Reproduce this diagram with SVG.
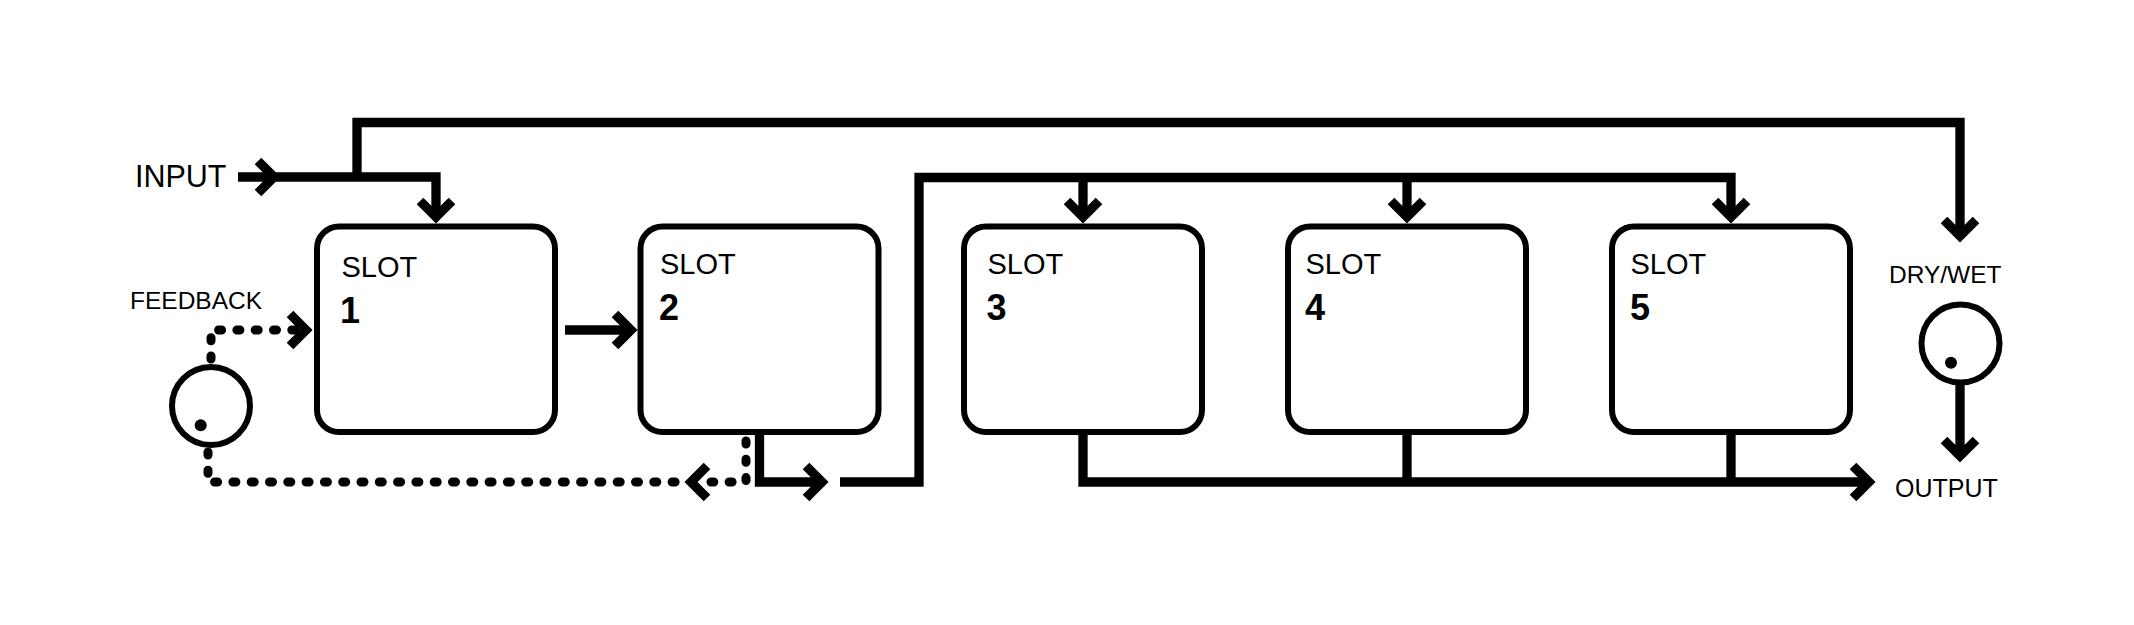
<svg xmlns="http://www.w3.org/2000/svg" xmlns:xlink="http://www.w3.org/1999/xlink" width="2134" height="625" viewBox="0 0 2134 625">
<style>
.box{fill:#fff;stroke:#000;stroke-width:6}
.knob{fill:#fff;stroke:#000;stroke-width:6}
.dot{fill:#000}
.wire{fill:none;stroke:#000;stroke-width:9.3;stroke-linecap:butt;stroke-linejoin:miter}
.dots{fill:none;stroke:#000;stroke-width:9;stroke-linecap:round;stroke-dasharray:3 15.3}
.chev{fill:none;stroke:#000;stroke-width:9.3;stroke-linecap:butt;stroke-linejoin:miter;stroke-miterlimit:10}
.lbl{font-family:"Liberation Sans",Arial,sans-serif;fill:#000}
.slot{font-family:"Liberation Sans",Arial,sans-serif;font-size:29px;fill:#000}
.num{font-family:"Liberation Sans",Arial,sans-serif;font-size:36px;font-weight:bold;fill:#000}
</style>
<defs>
<path id="chev" class="chev" d="M -16 -16 L 0 0 L -16 16"/>
</defs>
<rect width="2134" height="625" fill="#fff"/>
<g id="connectors">
<path class="wire" d="M 238 177 H 436 V 217"/>
<path class="wire" d="M 357 177 V 122.5 H 1960 V 236"/>
<path class="wire" d="M 565 330 H 631"/>
<path class="wire" d="M 759.5 432 V 482 H 822"/>
<path class="wire" d="M 840 482 H 919 V 177.5 H 1731 V 217"/>
<path class="wire" d="M 1083 177.5 V 217"/>
<path class="wire" d="M 1407 177.5 V 217"/>
<path class="wire" d="M 1083 432 V 482 H 1869"/>
<path class="wire" d="M 1407 432 V 482"/>
<path class="wire" d="M 1731 432 V 482"/>
<path class="wire" d="M 1960 382 V 456"/>
<path class="dots" d="M 211 359 V 330 H 300"/>
<path class="dots" d="M 208 452 V 482 H 676"/>
<path class="dots" d="M 746 441 V 482 H 711"/>
<use xlink:href="#chev" href="#chev" transform="translate(274 177)"/>
<use xlink:href="#chev" href="#chev" transform="translate(436 217) rotate(90)"/>
<use xlink:href="#chev" href="#chev" transform="translate(631 330)"/>
<use xlink:href="#chev" href="#chev" transform="translate(306 330)"/>
<use xlink:href="#chev" href="#chev" transform="translate(691 482) rotate(180)"/>
<use xlink:href="#chev" href="#chev" transform="translate(822 482)"/>
<use xlink:href="#chev" href="#chev" transform="translate(1083 217) rotate(90)"/>
<use xlink:href="#chev" href="#chev" transform="translate(1407 217) rotate(90)"/>
<use xlink:href="#chev" href="#chev" transform="translate(1731 217) rotate(90)"/>
<use xlink:href="#chev" href="#chev" transform="translate(1960 236) rotate(90)"/>
<use xlink:href="#chev" href="#chev" transform="translate(1960 456) rotate(90)"/>
<use xlink:href="#chev" href="#chev" transform="translate(1869 482)"/>
</g>
<g id="input">
<text class="lbl" x="135" y="187" font-size="30.5">INPUT</text>
</g>
<g id="feedback">
<text class="lbl" x="130" y="309" font-size="24.5">FEEDBACK</text>
<circle class="knob" cx="211" cy="406" r="39"/>
<circle class="dot" cx="200.7" cy="425.3" r="6"/>
</g>
<g id="slot1">
<rect class="box" x="317" y="226.5" width="238" height="205.5" rx="22"/>
<text class="slot" x="341.5" y="277">SLOT</text>
<text class="num" x="340" y="323">1</text>
</g>
<g id="slot2">
<rect class="box" x="640.5" y="226.5" width="238" height="205.5" rx="22"/>
<text class="slot" x="660" y="274">SLOT</text>
<text class="num" x="659" y="320">2</text>
</g>
<g id="slot3">
<rect class="box" x="964" y="226.5" width="238" height="205.5" rx="22"/>
<text class="slot" x="987.5" y="274">SLOT</text>
<text class="num" x="986.5" y="320">3</text>
</g>
<g id="slot4">
<rect class="box" x="1288" y="226.5" width="238" height="205.5" rx="22"/>
<text class="slot" x="1305.5" y="274">SLOT</text>
<text class="num" x="1305" y="320">4</text>
</g>
<g id="slot5">
<rect class="box" x="1612" y="226.5" width="238" height="205.5" rx="22"/>
<text class="slot" x="1630.5" y="274">SLOT</text>
<text class="num" x="1630" y="320">5</text>
</g>
<g id="drywet">
<text class="lbl" x="1889" y="283" font-size="24.5">DRY/WET</text>
<circle class="knob" cx="1960.5" cy="343.5" r="39"/>
<circle class="dot" cx="1951" cy="362.7" r="6"/>
</g>
<g id="output">
<text class="lbl" x="1895" y="497" font-size="25">OUTPUT</text>
</g>
</svg>
